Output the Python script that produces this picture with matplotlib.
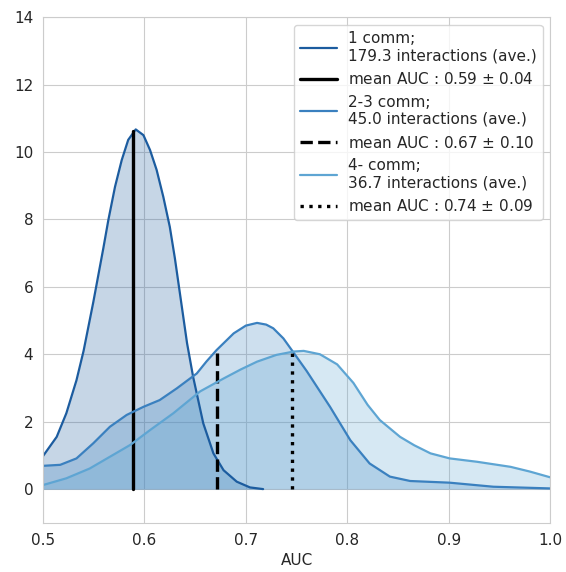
import numpy as np
import matplotlib
matplotlib.use("Agg")
import matplotlib.pyplot as plt
import seaborn as sns

# density curves (AUC, density)
auc_1 = [0.500, 0.5135, 0.523, 0.533, 0.540, 0.5496, 0.5595, 0.5644, 0.571, 0.5776,
         0.584, 0.5914, 0.599, 0.6055, 0.612, 0.6186, 0.625, 0.630, 0.635, 0.642,
         0.648, 0.658, 0.668, 0.678, 0.691, 0.704, 0.717]
dens_1 = [0.98, 1.55, 2.25, 3.23, 4.10, 5.55, 7.15, 7.98, 8.97, 9.76,
          10.36, 10.67, 10.50, 10.06, 9.47, 8.67, 7.78, 6.85, 5.80, 4.33,
          3.33, 1.95, 1.06, 0.56, 0.22, 0.05, 0.0]

auc_2 = [0.500, 0.517, 0.533, 0.5496, 0.566, 0.5825, 0.599, 0.615, 0.632, 0.6516,
         0.661, 0.671, 0.688, 0.700, 0.711, 0.720, 0.727, 0.737, 0.747, 0.760,
         0.783, 0.803, 0.822, 0.842, 0.862, 0.901, 0.944, 1.0]
dens_2 = [0.69, 0.72, 0.91, 1.36, 1.85, 2.20, 2.44, 2.64, 2.99, 3.43,
          3.78, 4.12, 4.62, 4.85, 4.93, 4.88, 4.77, 4.47, 4.05, 3.50,
          2.44, 1.45, 0.76, 0.37, 0.24, 0.19, 0.07, 0.02]

auc_3 = [0.500, 0.523, 0.546, 0.566, 0.586, 0.6055, 0.6285, 0.655, 0.678, 0.695,
         0.711, 0.730, 0.747, 0.757, 0.773, 0.790, 0.806, 0.820, 0.832, 0.852,
         0.866, 0.882, 0.901, 0.928, 0.961, 0.980, 1.0]
dens_3 = [0.12, 0.32, 0.61, 0.96, 1.31, 1.75, 2.25, 2.90, 3.28, 3.55,
          3.78, 3.98, 4.08, 4.10, 4.00, 3.70, 3.15, 2.50, 2.05, 1.55,
          1.30, 1.06, 0.91, 0.81, 0.66, 0.52, 0.35]

groups = ["1 comm;\n179.3 interactions (ave.)",
          "2-3 comm;\n45.0 interactions (ave.)",
          "4- comm;\n36.7 interactions (ave.)"]
mean_labels = ["mean AUC : 0.59 $\\pm$ 0.04",
               "mean AUC : 0.67 $\\pm$ 0.10",
               "mean AUC : 0.74 $\\pm$ 0.09"]
mean_auc = [0.589, 0.6715, 0.7455]
mean_top = [10.62, 4.15, 4.08]

sns.set_style("whitegrid")
plt.rcParams['font.family'] = ['DejaVu Sans']

colors = ["#1c5c9f", "#3a80bf", "#5ea5d3"]
styles = ["-", "--", ":"]
curves = [(auc_1, dens_1), (auc_2, dens_2), (auc_3, dens_3)]

fig = plt.figure(figsize=(5.66, 5.72), dpi=100)
ax = fig.add_axes([0.076, 0.086, 0.896, 0.884])

for i, (x, y) in enumerate(curves):
    ax.fill_between(x, 0, y, color=colors[i], alpha=0.25, linewidth=0)
    ax.plot(x, y, color=colors[i], lw=1.6, label=groups[i])
    ax.plot([mean_auc[i], mean_auc[i]], [0, mean_top[i]], color="black",
            ls=styles[i], lw=2.4, label=mean_labels[i])

ax.set_xlim(0.5, 1.0)
ax.set_ylim(-1, 14)
ax.set_xticks([0.5, 0.6, 0.7, 0.8, 0.9, 1.0])
ax.set_yticks(range(0, 15, 2))
ax.tick_params(labelsize=11, colors="#262626")
ax.set_xlabel("AUC", fontsize=11, color="#262626")
for s in ax.spines.values():
    s.set_color("#cccccc")

ax.legend(loc="upper right", fontsize=11, labelspacing=0.5, handlelength=2.4,
          handletextpad=0.7, borderaxespad=0.5)

plt.savefig("out.png", dpi=100)
